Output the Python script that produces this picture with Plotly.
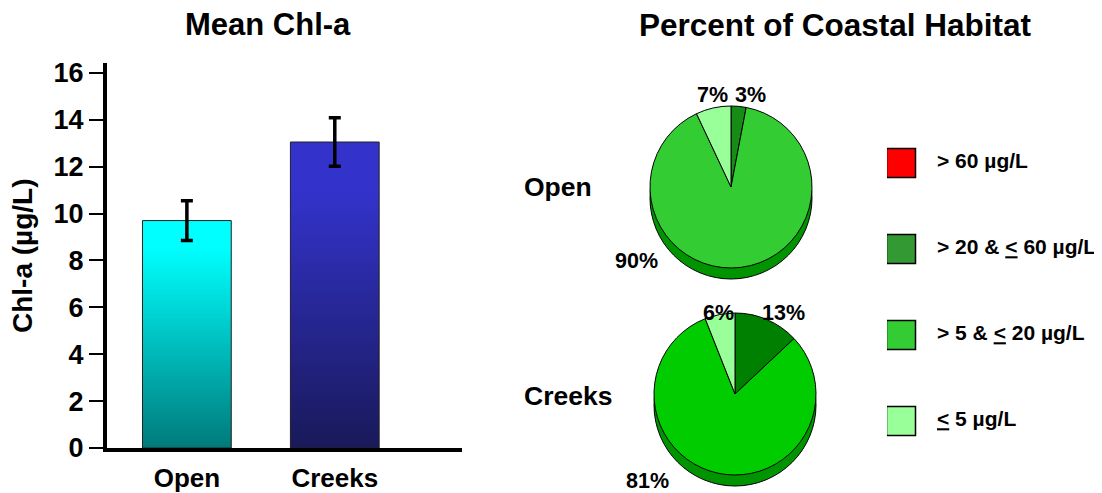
import plotly.graph_objects as go

# données
sites = ["Open", "Creeks"]
chl_mean = [9.7, 13.05]
chl_err = [0.85, 1.03]

classes = ["&gt; 60 µg/L", "&gt; 20 & <u>&lt;</u> 60 µg/L",
           "&gt; 5 & <u>&lt;</u> 20 µg/L", "<u>&lt;</u> 5 µg/L"]
class_colors = ["#ff0000", "#339933", "#33cc33", "#99ff99"]
open_pct = [0, 3, 90, 7]
creeks_pct = [0, 13, 81, 6]
open_colors = ["#ff0000", "#168c16", "#33cc33", "#99ff99"]
creeks_colors = ["#ff0000", "#008000", "#00cc00", "#99ff99"]

# la page ajoute une marge de 8 px en haut et à gauche
OFF = 8
W, H = 1102 - OFF, 493 - OFF
FONT = "Liberation Sans"


def px(x):
    return (x - OFF) / W


def py(y):
    return 1 - (y - OFF) / H


fig = go.Figure()

# barres en dégradé
bar_w = 0.6
bar_grads = [
    [[0, "#007a7a"], [0.88, "#00ffff"], [1, "#00ffff"]],
    [[0, "#19195a"], [0.85, "#3333cc"], [1, "#3333cc"]],
]
for i, (v, grad) in enumerate(zip(chl_mean, bar_grads)):
    x0, x1 = i - bar_w / 2, i + bar_w / 2
    fig.add_trace(go.Scatter(
        x=[x0, x0, x1, x1, x0], y=[0, v, v, 0, 0],
        fill="toself", fillgradient=dict(type="vertical", colorscale=grad),
        mode="lines", line=dict(color="#222222", width=1),
        showlegend=False, hoverinfo="skip", xaxis="x", yaxis="y",
    ))

# barres d'erreur
fig.add_trace(go.Scatter(
    x=list(range(len(sites))), y=chl_mean, mode="markers",
    marker=dict(size=1, opacity=0),
    error_y=dict(type="data", array=chl_err, thickness=3.5, width=6, color="black"),
    showlegend=False, hoverinfo="skip", xaxis="x", yaxis="y",
))

# camemberts (ombre + face)
pies = [
    (open_pct, open_colors, 731, 187),
    (creeks_pct, creeks_colors, 735, 394),
]
r = 81
depth = 11
for vals, cols, cx, cy in pies:
    fig.add_trace(go.Pie(
        values=[1], marker=dict(colors=["#009400"], line=dict(color="black", width=1)),
        textinfo="none", sort=False, showlegend=False, hoverinfo="skip",
        domain=dict(x=[px(cx - r), px(cx + r)], y=[py(cy + r + depth), py(cy - r + depth)]),
    ))
for vals, cols, cx, cy in pies:
    fig.add_trace(go.Pie(
        labels=classes, values=vals,
        marker=dict(colors=cols, line=dict(color="black", width=1)),
        textinfo="none", sort=False, direction="clockwise", rotation=0,
        showlegend=False,
        domain=dict(x=[px(cx - r), px(cx + r)], y=[py(cy + r), py(cy - r)]),
    ))

# légende
fig.add_trace(go.Scatter(
    x=[14] * len(classes), y=list(range(len(classes))), mode="markers",
    marker=dict(symbol="square", size=29, color=class_colors,
                line=dict(color="black", width=1.5)),
    showlegend=False, hoverinfo="skip", xaxis="x2", yaxis="y2",
))
fig.add_trace(go.Scatter(
    x=[50] * len(classes), y=list(range(len(classes))), mode="text",
    text=classes, textposition="middle right",
    textfont=dict(size=21, family=FONT, color="black", weight="bold"),
    showlegend=False, hoverinfo="skip", xaxis="x2", yaxis="y2",
))

annotations = [
    dict(text="Mean Chl-a", x=px(268), y=py(25), font=dict(size=31)),
    dict(text="Percent of Coastal Habitat", x=px(835), y=py(25), font=dict(size=31.5)),
    dict(text="Chl-a (µg/L)", x=px(23), y=py(256), textangle=-90, font=dict(size=28)),
    dict(text=sites[0], x=px(522), y=py(187), xanchor="left", font=dict(size=26.5)),
    dict(text=sites[1], x=px(522), y=py(396), xanchor="left", font=dict(size=26.5)),
]
# étiquettes des pourcentages
label_pos = [
    {1: (750, 95), 2: (636, 261), 3: (712, 95)},
    {1: (783, 313), 2: (647, 481), 3: (718, 313)},
]
for (vals, _, _, _), pos in zip(pies, label_pos):
    for k, (lx, ly) in pos.items():
        annotations.append(dict(text=f"{vals[k]}%", x=px(lx), y=py(ly), font=dict(size=21.5)))

for a in annotations:
    a.update(xref="paper", yref="paper", showarrow=False)
    a.setdefault("xanchor", "center")
    a.setdefault("yanchor", "middle")

fig.update_layout(
    width=W, height=H,
    margin=dict(l=0, r=0, t=0, b=0, autoexpand=False),
    paper_bgcolor="white", plot_bgcolor="white",
    font=dict(family=FONT, color="black", weight="bold"),
    annotations=annotations,
    xaxis=dict(
        domain=[px(107), px(462)], range=[-0.54, 1.86],
        tickvals=list(range(len(sites))), ticktext=sites,
        showline=True, linewidth=4, linecolor="black", ticks="",
        tickfont=dict(size=26), ticklabelstandoff=4, automargin=False,
        showgrid=False, zeroline=False, fixedrange=True,
    ),
    yaxis=dict(
        domain=[py(448), py(63)], range=[0, 16.42], dtick=2,
        showline=True, linewidth=4, linecolor="black",
        ticks="outside", ticklen=14, tickwidth=2, tickcolor="black",
        tickfont=dict(size=27), automargin=False,
        showgrid=False, zeroline=False, fixedrange=True,
    ),
    xaxis2=dict(domain=[px(887), px(1100)], range=[0, 213], visible=False,
                automargin=False, fixedrange=True),
    yaxis2=dict(domain=[py(464), py(120)], range=[3.5, -0.5], visible=False,
                automargin=False, fixedrange=True),
)

fig.write_html("out.html")
